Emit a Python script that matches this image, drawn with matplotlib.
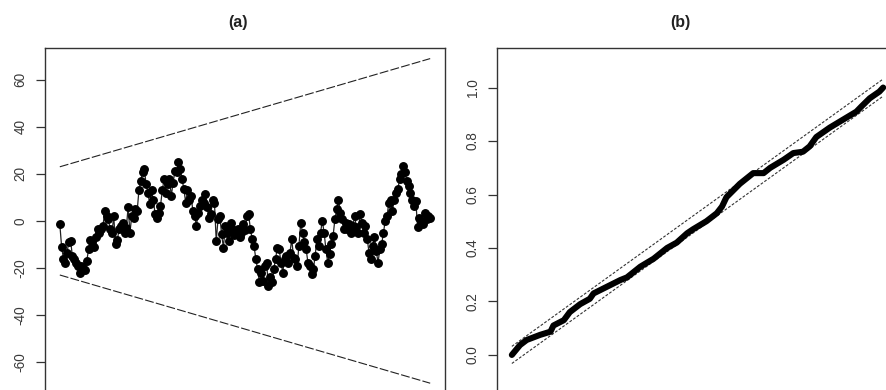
import matplotlib
matplotlib.use("Agg")
import matplotlib.pyplot as plt
import numpy as np

# ---------------- data ----------------
# (a) CUSUM-type series
cusum = [-1.4, -11, -16, -18, -13.5, -9, -8.5, -15, -16, -18, -19, -22, -19, -20, -21, -17, -12, -8, -9,
         -11, -7, -3.5, -5, -3.5, -2, 4, 2, 0.7, -3.5, -5, 2, -10, -8, -3.5, -2, -1, -5, -3, 6, -5, 2,
         1.4, 5, 4, 13, 17, 20.6, 22, 15.6, 12, 7, 13, 9, 3, 1.4, 3.5, 6.4, 13, 17.7, 12, 15.6, 17.7,
         10.6, 16.3, 21, 20.6, 25, 22, 17.7, 13.5, 7.8, 13, 9, 10.6, 4.3, 2, -2, 3.5, 6.4, 9, 7.8, 11.4,
         5.7, 1.4, 2.8, 9, 7.8, -8.5, 0.7, 2, -5.7, -11.4, -2, -5, -8.5, -0.7, -3.5, -6, -5, -3.5, -7,
         -5, -1.4, -4, 2, 2.8, -3.5, -7.8, -10.6, -16, -20.6, -26, -22, -25.6, -19, -17.7, -27.7, -24,
         -26, -20.6, -16, -11.4, -12, -17.7, -22, -16, -15, -17.7, -13.5, -7.8, -15.6, -16, -19, -10.6,
         -0.7, -5, -9, -12, -17.7, -19, -22.7, -20.6, -15, -7.8, -10.6, -5, 0, -5, -12, -17.7, -14,
         -10, -6.4, 0.7, 5, 9, 3.5, 0.7, -3.5, -0.7, -3.5, -1.4, -5, -2, 2, -2.8, -5, 2.8, -0.7, -5,
         -2, -7.8, -13.5, -16, -10.6, -7, -12.8, -17.7, -12, -10, -5, 0, 2, 7.8, 9, 4.3, 9, 12, 13.5,
         17.7, 20, 23.4, 20.6, 17, 15, 12, 9, 6.4, 8.5, -2.8, 1.4, 0, -1.4, 3.5, 0.7, 2, 1.4]
bound_start = 23.0
bound_end = 69.0
yticks_a = [-60, -40, -20, 0, 20, 40, 60]

# (b) cumulative periodogram
freq = [0.0, 0.011, 0.020, 0.038, 0.052, 0.056, 0.070, 0.078, 0.092, 0.105, 0.110, 0.128, 0.146,
        0.155, 0.173, 0.191, 0.209, 0.222, 0.236, 0.244, 0.262, 0.276, 0.283, 0.289, 0.298, 0.307,
        0.325, 0.339, 0.348, 0.366, 0.379, 0.392, 0.401, 0.410, 0.428, 0.446, 0.464, 0.471, 0.482,
        0.495, 0.500]
cumper = [0.0, 0.037, 0.056, 0.075, 0.087, 0.11, 0.13, 0.16, 0.19, 0.21, 0.23, 0.255, 0.28, 0.29,
          0.33, 0.36, 0.40, 0.42, 0.455, 0.47, 0.50, 0.53, 0.555, 0.59, 0.615, 0.64, 0.68, 0.68,
          0.70, 0.73, 0.755, 0.76, 0.78, 0.815, 0.85, 0.88, 0.91, 0.93, 0.96, 0.985, 1.0]
band = 0.032
yticks_b = [0.0, 0.2, 0.4, 0.6, 0.8, 1.0]

# ---------------- figure ----------------
W, H = 886, 390
fig = plt.figure(figsize=(W / 100, H / 100), dpi=100)
plt.rcParams['font.family'] = ['Liberation Sans', 'DejaVu Sans']

spine_col = '#333333'
text_col = '#3a3a3a'


def style(ax):
    for s in ['left', 'top', 'right']:
        ax.spines[s].set_color(spine_col)
        ax.spines[s].set_linewidth(1.0)
    ax.spines['bottom'].set_visible(False)
    ax.tick_params(axis='y', direction='out', length=6.5, width=0.9, color=spine_col,
                   labelsize=9.8, labelcolor=text_col, pad=6)
    for lab in ax.get_yticklabels():
        lab.set_rotation(90)
        lab.set_va('center')
    ax.set_xticks([])


top_px, bot_px = 48, 394.5
# panel (a)
axa = fig.add_axes([45 / W, 1 - bot_px / H, 400 / W, (bot_px - top_px) / H])
n = len(cusum)
idx = np.arange(1, n + 1)
axa.plot(idx, cusum, color='#222222', lw=0.9, marker='o', ms=5.4, mfc='black', mec='black', zorder=3)
axa.plot([1, n], [bound_start, bound_end], color='#222222', lw=0.8, ls=(0, (8, 2)))
axa.plot([1, n], [-bound_start, -bound_end], color='#222222', lw=0.8, ls=(0, (8, 2)))
pad = 0.04 * (n - 1)
axa.set_xlim(1 - pad, n + pad)
axa.set_ylim(-73.8, 73.5)
axa.set_yticks(yticks_a)
axa.set_yticklabels([str(v) for v in yticks_a])
style(axa)

# panel (b)
axb = fig.add_axes([497 / W, 1 - bot_px / H, 401 / W, (bot_px - top_px) / H])
axb.plot(freq, cumper, color='black', lw=4.4, solid_capstyle='round', solid_joinstyle='round', zorder=3)
f0, f1 = freq[0], freq[-1]
axb.plot([f0, f1], [0 + band, 1 + band], color='#333333', lw=0.8, ls=(0, (2.5, 1.5)))
axb.plot([f0, f1], [0 - band, 1 - band], color='#333333', lw=0.8, ls=(0, (2.5, 1.5)))
axb.set_xlim(-0.02, 0.52)
axb.set_ylim(-0.148, 1.148)
axb.set_yticks(yticks_b)
axb.set_yticklabels([f"{v:.1f}" for v in yticks_b])
style(axb)

fig.text(238 / W, 1 - 22 / H, '(a)', ha='center', va='center', fontsize=11.5, fontweight='bold', color='#222222')
fig.text(680 / W, 1 - 22 / H, '(b)', ha='center', va='center', fontsize=11.5, fontweight='bold', color='#222222')

fig.savefig('out.png', dpi=100)
